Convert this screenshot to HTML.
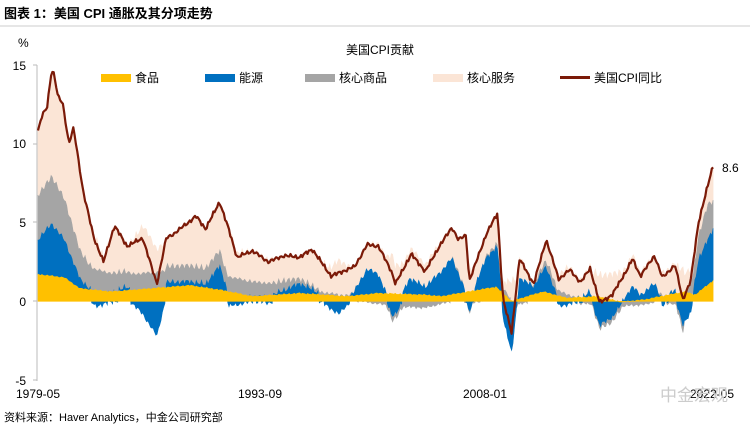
<!DOCTYPE html>
<html><head><meta charset="utf-8"><style>
body{margin:0;background:#fff;font-family:"Liberation Sans","Noto Sans CJK SC",sans-serif;}
svg text{font-family:"Liberation Sans","Noto Sans CJK SC",sans-serif;}
</style></head><body>
<svg id="s" width="750" height="432" xmlns="http://www.w3.org/2000/svg">
<text x="4" y="18" font-size="13" font-weight="bold" fill="#000">图表 1：美国 CPI 通胀及其分项走势</text>
<line x1="0" y1="26" x2="750" y2="26" stroke="#999" stroke-width="0.6"/>
<text x="18" y="47" font-size="12">%</text>
<text x="380" y="54" font-size="12" text-anchor="middle">美国CPI贡献</text>
<rect x="101" y="74" width="30" height="8" fill="#ffc000"/><text x="135" y="82" font-size="12">食品</text>
<rect x="205" y="74" width="30" height="8" fill="#0070c0"/><text x="239" y="82" font-size="12">能源</text>
<rect x="305" y="74" width="30" height="8" fill="#a5a5a5"/><text x="339" y="82" font-size="12">核心商品</text>
<rect x="433" y="74" width="30" height="8" fill="#fbe5d6"/><text x="467" y="82" font-size="12">核心服务</text>
<rect x="560" y="76" width="30" height="3" fill="#7b1a08"/><text x="594" y="82" font-size="12">美国CPI同比</text>
<g font-size="12" text-anchor="end" fill="#000">
<text x="26" y="70">15</text><text x="26" y="148">10</text><text x="26" y="227">5</text><text x="26" y="306">0</text><text x="26" y="385">-5</text></g>
<line x1="37" y1="65" x2="37" y2="381" stroke="#bbb" stroke-width="1"/>
<g stroke="#bbb"><line x1="33" y1="65" x2="37" y2="65"/><line x1="33" y1="144" x2="37" y2="144"/><line x1="33" y1="222" x2="37" y2="222"/><line x1="33" y1="301" x2="37" y2="301"/><line x1="33" y1="380" x2="37" y2="380"/></g>
<g id="areas"></g>
<g font-size="12" text-anchor="middle"><text x="38" y="398">1979-05</text><text x="260" y="398">1993-09</text><text x="485" y="398">2008-01</text><text x="712" y="398">2022-05</text></g>
<text x="722" y="172" font-size="12">8.6</text>
<text x="660" y="401" font-size="17" fill="#ccc">中金宏观</text>
<text x="4" y="421" font-size="11">资料来源：Haver Analytics，中金公司研究部</text>
</svg>
<script>
function interp(k,t){if(t<=k[0][0])return k[0][1];for(let i=1;i<k.length;i++){if(t<=k[i][0]){let a=k[i-1],b=k[i];return a[1]+(b[1]-a[1])*(t-a[0])/(b[0]-a[0]);}}return k[k.length-1][1];}
const H=[[1979.33,10.8],[1979.6,11.8],[1979.9,12.3],[1980.2,14.7],[1980.35,14.4],[1980.6,13],[1980.9,12.6],[1981.3,10],[1981.6,11],[1981.9,9],[1982.2,7],[1982.9,4],[1983.5,2.5],[1984.2,4.8],[1985,3.5],[1986,4],[1986.9,1.1],[1987.5,4],[1988,4.3],[1989.4,5.4],[1990.0,4.6],[1990.9,6.3],[1991.5,4.5],[1992,2.8],[1993,3.2],[1994,2.5],[1995,2.9],[1996,2.8],[1996.8,3.3],[1998,1.6],[1999.5,2.2],[2000.3,3.6],[2001.0,3.5],[2001.8,2.0],[2002.1,1.1],[2003.1,3.0],[2004,1.9],[2004.9,3.5],[2005.7,4.7],[2006.1,3.9],[2006.6,4.2],[2006.8,1.3],[2007.9,4.3],[2008.6,5.6],[2008.95,0.1],[2009.5,-2.0],[2010,2.7],[2010.9,1.1],[2011.7,3.9],[2012.5,1.4],[2013.2,2.0],[2013.9,1.2],[2014.5,2.1],[2015.1,-0.1],[2015.9,0.4],[2016.9,2.1],[2017.2,2.7],[2017.7,1.6],[2018.6,2.9],[2019.1,1.5],[2019.9,2.3],[2020.4,0.1],[2020.9,1.3],[2021.4,5.0],[2021.9,7.0],[2022.33,8.6]];
const F=[[1979.33,1.7],[1981,1.5],[1982,0.8],[1984,0.6],[1989,1.0],[1991,0.7],[1993,0.3],[1996,0.5],[1999,0.3],[2001,0.5],[2004,0.4],[2005,0.3],[2008.5,0.9],[2009.5,0],[2011.5,0.6],[2013,0.2],[2015,0.3],[2016.5,-0.05],[2018,0.1],[2020.5,0.6],[2021.2,0.4],[2022.33,1.3]];
const E=[[1979.33,2.2],[1980.2,3.3],[1981,2.4],[1982,0.6],[1983,-0.3],[1985,0.2],[1986,-0.8],[1986.9,-2.2],[1987.5,0.3],[1990,0.2],[1990.9,1.5],[1991.5,-0.3],[1993,0],[1994,-0.1],[1996,0.6],[1997,0.2],[1998.5,-0.8],[1999.5,0.3],[2000.3,1.6],[2001,1.2],[2001.9,-0.9],[2002.3,-0.5],[2003,1.0],[2004,0.5],[2005.7,2.3],[2006.8,-0.6],[2007.9,2.0],[2008.6,2.5],[2008.95,-1.0],[2009.5,-3.3],[2010,1.3],[2010.9,0.5],[2011.7,1.6],[2012.5,-0.3],[2014,0],[2014.5,0.3],[2015.1,-1.5],[2015.9,-1.0],[2016.9,0.5],[2017.2,0.9],[2017.7,0.3],[2018.6,0.9],[2019.1,-0.3],[2019.9,0.3],[2020.4,-1.5],[2020.9,-0.7],[2021.4,2.0],[2021.9,2.8],[2022.33,3.2]];
const G=[[1979.33,2.8],[1980.2,3.0],[1981,2.6],[1982,1.8],[1983,1.3],[1985,1.0],[1990,1.0],[1993,0.9],[1995,0.6],[1996,0.3],[1998,0.1],[2000,0],[2002,-0.3],[2004,-0.4],[2006,0.1],[2007,-0.1],[2009,0.3],[2010,-0.2],[2012,0.5],[2014,-0.1],[2016,-0.3],[2018,-0.2],[2019,0.1],[2020.4,-0.4],[2021,1.0],[2022.0,2.2],[2022.33,1.8]];
function X(t){return 38+(t-1979.33)*15.7;}function Y(v){return 301.25-v*15.75;}
function nz(i,a){return a*(Math.sin(i*1.7)+0.6*Math.sin(i*3.1+1)+0.4*Math.sin(i*0.53));}
const N=517;let comps=[[],[],[],[]],hl=[],ts=[];
for(let i=0;i<N;i++){let t=1979.33+i/12;ts.push(t);let h=interp(H,t)+nz(i,0.08);hl.push(h);
let f=interp(F,t)+nz(i+5,0.03),e=interp(E,t)+nz(i+9,0.1),g=interp(G,t)+nz(i+2,0.06);let s=h-f-e-g;if(s<0.3)s=0.3;
comps[0].push(f);comps[1].push(e);comps[2].push(g);comps[3].push(s);}
const cols=["#ffc000","#0070c0","#a5a5a5","#fbe5d6"];
let pos=new Array(N).fill(0),neg=new Array(N).fill(0);let out="";let layers=[];
for(let c=0;c<4;c++){let lo=[],hi=[];for(let i=0;i<N;i++){let v=comps[c][i];if(v>=0){lo.push(pos[i]);pos[i]+=v;hi.push(pos[i]);}else{lo.push(neg[i]);neg[i]+=v;hi.push(neg[i]);}}
let d="M";for(let i=0;i<N;i++)d+=X(ts[i]).toFixed(1)+","+Y(hi[i]).toFixed(1)+" ";for(let i=N-1;i>=0;i--)d+="L"+X(ts[i]).toFixed(1)+","+Y(lo[i]).toFixed(1)+" ";
layers.push('<path d="'+d+'Z" fill="'+cols[c]+'" stroke="'+cols[c]+'" stroke-width="0.6"/>');}
out=layers[3]+layers[2]+layers[1]+layers[0];
let d="M";for(let i=0;i<N;i++)d+=X(ts[i]).toFixed(1)+","+Y(hl[i]).toFixed(1)+" ";
out+='<path d="'+d+'" fill="none" stroke="#7b1a08" stroke-width="2.2" stroke-linejoin="round"/>';
document.getElementById("areas").innerHTML=out;
</script>
</body></html>
